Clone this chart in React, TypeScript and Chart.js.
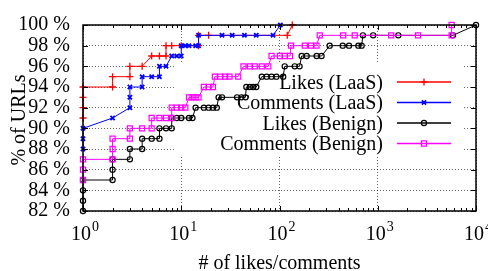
import React, { useEffect, useRef } from 'react';
import { Chart, registerables } from 'chart.js';
import { drawPoint } from 'chart.js/helpers';

Chart.register(...registerables);

// ---------- data ----------
const seriesLabels = ['Likes (LaaS)', 'Comments (LaaS)', 'Likes (Benign)', 'Comments (Benign)'];

const likesLaasX = [1, 1, 1, 1, 2, 2, 3, 3, 4, 5, 6, 7, 7, 8, 10, 15, 15, 19, 120, 135];
const likesLaasY = [91, 92, 93, 94, 94, 95, 95, 96, 96, 97, 97, 97, 98, 98, 98, 98, 99, 99, 99, 100];

const commentsLaasX = [1, 1, 1, 2, 3, 3, 3, 4, 4, 5, 6, 6, 7, 8, 9, 10, 10, 11, 12, 14, 15, 15, 26, 33, 44, 58, 86, 102];
const commentsLaasY = [88, 89, 90, 91, 92, 93, 94, 94, 95, 95, 95, 96, 96, 97, 97, 97, 98, 98, 98, 98, 98, 99, 99, 99, 99, 99, 99, 100];

const likesBenignX = [1, 1, 1, 1, 2, 2, 2, 3, 3, 4, 4, 5, 6, 6, 7, 8, 8, 9, 10, 12, 13, 14, 17, 19, 21, 23, 24, 26, 37, 41, 45, 46, 50, 54, 58, 66, 74, 83, 93, 109, 113, 143, 160, 168, 189, 239, 268, 324, 440, 510, 635, 685, 707, 898, 1620, 5820, 10000];
const likesBenignY = [82, 83, 84, 85, 85, 86, 87, 87, 88, 88, 89, 89, 89, 90, 90, 90, 91, 91, 91, 91, 91, 92, 92, 92, 92, 92, 93, 93, 93, 93, 93, 94, 94, 94, 94, 95, 95, 95, 95, 95, 96, 96, 96, 97, 97, 97, 97, 98, 98, 98, 98, 98, 99, 99, 99, 99, 100];

const commentsBenignX = [1, 1, 1, 2, 2, 2, 3, 3, 4, 5, 5, 6, 7, 8, 8, 9, 10, 11, 12, 13, 14, 15, 17, 19, 21, 22, 25, 28, 31, 38, 43, 50, 56, 66, 77, 83, 101, 113, 128, 131, 181, 209, 238, 257, 445, 583, 1370, 2570, 5650, 5650];
const commentsBenignY = [85, 86, 87, 87, 88, 89, 89, 90, 90, 90, 91, 91, 91, 91, 92, 92, 92, 92, 93, 93, 93, 93, 94, 94, 94, 95, 95, 95, 95, 95, 96, 96, 96, 96, 96, 97, 97, 97, 97, 98, 98, 98, 98, 99, 99, 99, 99, 99, 99, 100];

const xTickValues = [1, 10, 100, 1000, 10000];
const xTickExponents = ['0', '1', '2', '3', '4'];
const yTickValues = [82, 84, 86, 88, 90, 92, 94, 96, 98, 100];

const xTitle = '# of likes/comments';
const yTitle = '% of URLs';

// ---------- styles ----------
const FONT = '"Liberation Serif", "Times New Roman", serif';
const seriesColors = ['#ff0000', '#0000ff', '#000000', '#ff00ff'];
const pointStyles = ['cross', 'crossRot', 'circle', 'rect'];
const pointRadii = [3.5, 3, 2.6, 3.6];
const pointBorderWidths = [1.3, 1.8, 1.2, 1.2];
const GRID = 'rgba(0,0,0,0.6)';

const gnuplotPlugin = {
  id: 'gnuplotDecor',
  beforeDatasetsDraw(chart: any) {
    const { ctx } = chart;
    ctx.save();
    ctx.fillStyle = '#ffffff';
    ctx.fillRect(175, 63, 288, 93);
    ctx.restore();
  },
  afterDatasetsDraw(chart: any) {
    const { ctx, chartArea: a, scales } = chart;
    const xs = scales.x;
    const ys = scales.y;
    ctx.save();

    // frame
    ctx.strokeStyle = '#000';
    ctx.lineWidth = 1.5;
    ctx.strokeRect(a.left, a.top, a.right - a.left, a.bottom - a.top);

    // ticks
    ctx.lineWidth = 1;
    ctx.beginPath();
    for (const v of yTickValues) {
      const y = Math.round(ys.getPixelForValue(v)) + 0.5;
      ctx.moveTo(a.left, y); ctx.lineTo(a.left + 5, y);
      ctx.moveTo(a.right, y); ctx.lineTo(a.right - 5, y);
    }
    for (let d = 0; d < xTickValues.length; d++) {
      const base = xTickValues[d];
      const x = Math.round(xs.getPixelForValue(base)) + 0.5;
      ctx.moveTo(x, a.bottom); ctx.lineTo(x, a.bottom - 5);
      ctx.moveTo(x, a.top); ctx.lineTo(x, a.top + 5);
      if (d < xTickValues.length - 1) {
        for (let m = 2; m <= 9; m++) {
          const mx = Math.round(xs.getPixelForValue(base * m)) + 0.5;
          ctx.moveTo(mx, a.bottom); ctx.lineTo(mx, a.bottom - 3);
          ctx.moveTo(mx, a.top); ctx.lineTo(mx, a.top + 3);
        }
      }
    }
    ctx.stroke();

    // x tick labels (10 with superscript exponent)
    ctx.fillStyle = '#000';
    ctx.textBaseline = 'alphabetic';
    ctx.textAlign = 'left';
    xTickValues.forEach((v, i) => {
      const x = xs.getPixelForValue(v);
      ctx.font = `20px ${FONT}`;
      const w = ctx.measureText('10').width;
      const left = x - 12;
      ctx.fillText('10', left, 240);
      ctx.font = `14px ${FONT}`;
      ctx.fillText(xTickExponents[i], left + w + 1, 231);
    });

    // axis titles
    ctx.font = `20px ${FONT}`;
    ctx.textAlign = 'center';
    ctx.fillText(xTitle, (a.left + a.right) / 2, 269);
    ctx.save();
    ctx.translate(25, (a.top + a.bottom) / 2 + 2);
    ctx.rotate(-Math.PI / 2);
    ctx.fillText(yTitle, 0, 0);
    ctx.restore();

    // legend
    const rows = [82, 102.5, 123, 143.5];
    chart.data.datasets.forEach((ds: any, i: number) => {
      const y = rows[i];
      ctx.font = `20px ${FONT}`;
      ctx.textAlign = 'right';
      ctx.fillStyle = '#000';
      ctx.fillText(ds.label, 383, y + 6.5);
      ctx.strokeStyle = ds.borderColor;
      ctx.lineWidth = 1.5;
      ctx.beginPath();
      ctx.moveTo(397, y); ctx.lineTo(451, y);
      ctx.stroke();
      ctx.fillStyle = 'rgba(0,0,0,0)';
      ctx.lineWidth = ds.pointBorderWidth;
      drawPoint(ctx, { pointStyle: ds.pointStyle, radius: ds.pointRadius, rotation: 0, borderWidth: ds.pointBorderWidth } as any, 424, y);
    });

    ctx.restore();
  },
};

export default function App() {
  const ref = useRef<HTMLCanvasElement>(null);
  useEffect(() => {
    const canvas = ref.current!;
    const seriesX = [likesLaasX, commentsLaasX, likesBenignX, commentsBenignX];
    const seriesY = [likesLaasY, commentsLaasY, likesBenignY, commentsBenignY];
    const datasets = seriesLabels.map((label, i) => ({
      label,
      data: seriesX[i].map((x, j) => ({ x, y: seriesY[i][j] })),
      borderColor: seriesColors[i],
      backgroundColor: 'rgba(0,0,0,0)',
      pointBorderColor: seriesColors[i],
      pointBackgroundColor: 'rgba(0,0,0,0)',
      pointStyle: pointStyles[i],
      pointRadius: pointRadii[i],
      pointBorderWidth: pointBorderWidths[i],
      borderWidth: 1,
      tension: 0,
      fill: false,
      clip: false,
      order: 4 - i,
    }));
    const chart = new Chart(canvas, {
      type: 'line',
      data: { datasets } as any,
      options: {
        responsive: false,
        animation: false,
        devicePixelRatio: 1,
        events: [],
        layout: { padding: { top: 14, right: 12, left: 0, bottom: 0 } },
        plugins: { legend: { display: false }, tooltip: { enabled: false } },
        scales: {
          x: {
            type: 'logarithmic',
            min: 1,
            max: 10000,
            afterBuildTicks: (s: any) => { s.ticks = xTickValues.map((v) => ({ value: v })); },
            afterFit: (s: any) => { s.height = 60; },
            ticks: { display: false },
            grid: { color: GRID, lineWidth: 1, drawTicks: false },
            border: { display: false, dash: [1, 2] },
          },
          y: {
            type: 'linear',
            min: 82,
            max: 100,
            afterBuildTicks: (s: any) => { s.ticks = yTickValues.map((v) => ({ value: v })); },
            afterFit: (s: any) => { s.width = 83; },
            ticks: {
              autoSkip: false,
              padding: 13,
              color: '#000',
              font: { family: FONT, size: 20 },
              callback: (v: any) => `${v} %`,
            },
            grid: { color: GRID, lineWidth: 1, drawTicks: false },
            border: { display: false, dash: [1, 2] },
          },
        },
      } as any,
      plugins: [gnuplotPlugin],
    });
    return () => chart.destroy();
  }, []);
  return (
    <div style={{ position: 'absolute', left: 0, top: 0, width: 488, height: 271, background: '#fff' }}>
      <canvas ref={ref} width={488} height={271} style={{ display: 'block', width: 488, height: 271 }} />
    </div>
  );
}
